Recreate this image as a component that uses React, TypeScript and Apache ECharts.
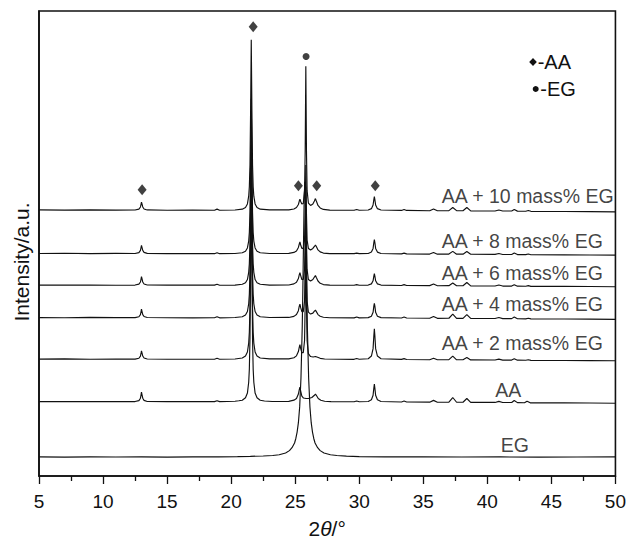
import React, { useEffect, useRef } from "react";
import * as echarts from "echarts";

// ---- data (2θ in degrees, intensity in a.u. above each trace's baseline) ----
const xMin = 5;
const xMax = 50;
const xInterval = 5;
const yMax = 471;

const traceNames = [
  "AA + 10 mass% EG",
  "AA + 8 mass% EG",
  "AA + 6 mass% EG",
  "AA + 4 mass% EG",
  "AA + 2 mass% EG",
  "AA",
  "EG",
];
const traceOffsets = [269, 225, 193, 160, 118, 75, 19];

const aa10 = [
  [5, 0.5], [7, 0.3], [9, 0.6], [11, 0.3], [12.5, 0.4],
  [12.8, 1.3], [12.92, 3.5], [12.97, 6.5], [13.0, 8.5], [13.04, 6.5], [13.1, 3.5], [13.2, 1.5], [13.45, 0.5],
  [15, 0.2], [17, 0.3], [18.7, 0.2], [18.9, 1.3], [19.1, 0.2], [20.3, 0.4],
  [20.87, 1.3], [21.12, 3], [21.27, 6.6], [21.37, 14.4], [21.42, 24], [21.47, 46], [21.52, 102], [21.57, 173],
  [21.62, 102], [21.67, 46], [21.72, 24], [21.77, 14.4], [21.87, 6.6], [22.02, 3], [22.27, 1.3], [23, 0.5],
  [24.5, 0.6], [24.9, 1.5], [25.1, 3], [25.25, 6], [25.32, 9.5], [25.37, 11.5], [25.43, 9], [25.52, 6.5],
  [25.63, 7], [25.73, 20], [25.78, 60], [25.83, 146], [25.88, 60], [25.93, 20], [26.03, 7.5], [26.2, 5],
  [26.38, 6.5], [26.5, 9.5], [26.58, 12], [26.65, 9.5], [26.78, 5], [26.95, 2.5], [27.2, 1], [27.7, 0.3],
  [29.6, 0.2], [29.8, 1], [30, 0.2], [30.7, 0.4], [30.95, 1.8], [31.08, 5.5], [31.14, 11], [31.18, 14],
  [31.22, 11], [31.28, 5.5], [31.42, 1.8], [31.7, 0.4],
  [33.3, 0], [33.5, 1], [33.7, 0], [35.5, -0.3], [35.8, 1.5], [36.1, -0.3], [37.0, -0.2], [37.3, 3],
  [37.6, -0.2], [38.1, -0.3], [38.4, 3], [38.7, -0.4], [40.6, -0.6], [40.9, 0.5], [41.2, -0.6], [41.9, -0.6],
  [42.1, 0.9], [42.35, -0.7], [43, -0.8], [43.2, 0], [43.4, -0.9], [46, -1.1], [48, -1.2], [50, -1.4],
];

const aa8 = [
  [5, 0.4], [7, 0.6], [9, 0.3], [11, 0.5], [12.5, 0.4],
  [12.8, 1.3], [12.92, 3.5], [12.97, 6.5], [13.0, 8.5], [13.04, 6.5], [13.1, 3.5], [13.2, 1.5], [13.45, 0.5],
  [15, 0.3], [17, 0.2], [18.7, 0.2], [18.9, 1.2], [19.1, 0.2], [20.3, 0.4],
  [20.87, 1.1], [21.12, 2.7], [21.27, 6], [21.37, 13], [21.42, 21.7], [21.47, 42], [21.52, 93], [21.57, 157],
  [21.62, 93], [21.67, 42], [21.72, 21.7], [21.77, 13], [21.87, 6], [22.02, 2.7], [22.27, 1.1], [23, 0.4],
  [24.5, 0.5], [24.9, 1.5], [25.1, 3], [25.25, 6.5], [25.32, 10], [25.37, 12], [25.43, 9], [25.52, 5.5],
  [25.63, 5.5], [25.73, 14], [25.78, 40], [25.83, 90], [25.88, 40], [25.93, 14], [26.03, 5.5], [26.2, 4],
  [26.38, 5.5], [26.5, 7.5], [26.58, 9], [26.65, 7.5], [26.78, 4], [26.95, 2], [27.2, 0.8], [27.7, 0.3],
  [29.6, 0.2], [29.8, 0.8], [30, 0.2], [30.7, 0.4], [30.95, 1.8], [31.08, 5.5], [31.14, 11.5], [31.18, 14.5],
  [31.22, 11.5], [31.28, 5.5], [31.42, 1.8], [31.7, 0.4],
  [33.3, 0], [33.5, 0.8], [33.7, 0], [35.5, -0.2], [35.8, 1.3], [36.1, -0.3], [37.0, -0.2], [37.3, 2.5],
  [37.6, -0.3], [38.1, -0.3], [38.4, 2.3], [38.7, -0.4], [40.6, -0.5], [40.9, 0.4], [41.2, -0.6], [41.9, -0.6],
  [42.1, 0.8], [42.35, -0.7], [43, -0.8], [43.2, -0.2], [43.4, -0.9], [46, -1], [48, -1.1], [50, -1.3],
];

const aa6 = [
  [5, 0.3], [7, 0.5], [9, 0.4], [11, 0.2], [12.5, 0.4],
  [12.8, 1.3], [12.92, 3.5], [12.97, 6.8], [13.0, 9], [13.04, 6.8], [13.1, 3.5], [13.2, 1.5], [13.45, 0.5],
  [15, 0.3], [17, 0.4], [18.7, 0.3], [18.9, 1.2], [19.1, 0.2], [20.3, 0.4],
  [20.87, 1.2], [21.12, 2.8], [21.27, 6], [21.37, 13.3], [21.42, 22], [21.47, 42], [21.52, 94], [21.57, 160],
  [21.62, 94], [21.67, 42], [21.72, 22], [21.77, 13.3], [21.87, 6], [22.02, 2.8], [22.27, 1.2], [23, 0.4],
  [24.5, 0.5], [24.9, 1.6], [25.1, 3.2], [25.25, 7], [25.32, 11], [25.37, 13], [25.43, 10], [25.52, 6],
  [25.63, 6], [25.73, 16], [25.78, 45], [25.83, 100], [25.88, 45], [25.93, 16], [26.03, 6], [26.2, 4.5],
  [26.38, 6], [26.5, 8.5], [26.58, 10], [26.65, 8], [26.78, 4.5], [26.95, 2.2], [27.2, 0.9], [27.7, 0.3],
  [29.6, 0.2], [29.8, 0.8], [30, 0.2], [30.7, 0.4], [30.95, 1.6], [31.08, 4.7], [31.14, 9.5], [31.18, 12],
  [31.22, 9.5], [31.28, 4.7], [31.42, 1.6], [31.7, 0.4],
  [33.3, 0], [33.5, 0.8], [33.7, 0], [35.5, -0.2], [35.8, 1.4], [36.1, -0.3], [37.0, -0.2], [37.3, 2.5],
  [37.6, -0.3], [38.1, -0.3], [38.4, 3], [38.7, -0.4], [40.6, -0.5], [40.9, 0.4], [41.2, -0.6], [41.9, -0.6],
  [42.1, 0.8], [42.35, -0.7], [43, -0.8], [43.2, -0.2], [43.4, -0.9], [46, -1], [48, -1.1], [50, -1.3],
];

const aa4 = [
  [5, 0.4], [7, 0.3], [9, 0.6], [11, 0.4], [12.5, 0.4],
  [12.8, 1.3], [12.92, 3.5], [12.97, 6.8], [13.0, 9], [13.04, 6.8], [13.1, 3.5], [13.2, 1.5], [13.45, 0.5],
  [15, 0.3], [17, 0.2], [18.7, 0.3], [18.9, 1.3], [19.1, 0.2], [20.3, 0.5],
  [20.87, 1.3], [21.12, 3.1], [21.27, 6.6], [21.37, 14.5], [21.42, 24], [21.47, 46], [21.52, 103], [21.57, 175],
  [21.62, 103], [21.67, 46], [21.72, 24], [21.77, 14.5], [21.87, 6.6], [22.02, 3.1], [22.27, 1.3], [23, 0.5],
  [24.5, 0.6], [24.9, 1.7], [25.1, 3.5], [25.25, 7.5], [25.32, 12], [25.37, 14], [25.43, 10.5], [25.52, 6.5],
  [25.63, 6.5], [25.73, 17], [25.78, 50], [25.83, 110], [25.88, 50], [25.93, 17], [26.03, 6], [26.2, 4],
  [26.38, 5], [26.5, 7], [26.58, 8], [26.65, 6.5], [26.78, 3.5], [26.95, 1.8], [27.2, 0.8], [27.7, 0.3],
  [29.6, 0.2], [29.8, 1], [30, 0.2], [30.7, 0.4], [30.95, 1.9], [31.08, 5.8], [31.14, 12], [31.18, 15],
  [31.22, 12], [31.28, 5.8], [31.42, 1.9], [31.7, 0.4],
  [33.3, 0], [33.5, 1], [33.7, 0], [35.5, -0.2], [35.8, 1.6], [36.1, -0.3], [37.0, -0.2], [37.3, 4],
  [37.6, -0.3], [38.1, -0.3], [38.4, 3.5], [38.7, -0.4], [40.6, -0.5], [40.9, 0.5], [41.2, -0.6], [41.9, -0.6],
  [42.1, 1], [42.35, -0.7], [43, -0.8], [43.2, -0.2], [43.4, -0.9], [46, -1], [48, -1.1], [50, -1.3],
];

const aa2 = [
  [5, 0.4], [7, 0.6], [9, 0.3], [11, 0.5], [12.5, 0.4],
  [12.8, 1.3], [12.92, 3.5], [12.97, 6.7], [13.0, 8.8], [13.04, 6.7], [13.1, 3.5], [13.2, 1.5], [13.45, 0.5],
  [15, 0.3], [17, 0.3], [18.7, 0.3], [18.9, 1.2], [19.1, 0.3], [20.3, 0.5],
  [20.87, 1.5], [21.12, 3.5], [21.27, 7.6], [21.37, 16.6], [21.42, 27.6], [21.47, 53], [21.52, 118], [21.57, 200],
  [21.62, 118], [21.67, 53], [21.72, 27.6], [21.77, 16.6], [21.87, 7.6], [22.02, 3.5], [22.27, 1.5], [23, 0.6],
  [24.5, 0.6], [24.9, 1.8], [25.1, 3.7], [25.25, 8], [25.32, 12.5], [25.37, 15], [25.43, 11], [25.52, 7],
  [25.63, 7], [25.73, 19], [25.78, 56], [25.83, 125], [25.88, 56], [25.93, 19], [26.03, 6], [26.2, 3],
  [26.4, 2.5], [26.58, 3], [26.75, 2.2], [26.95, 1.2], [27.3, 0.5],
  [29.6, 0.2], [29.8, 1], [30, 0.3], [30.7, 0.8], [30.95, 3.5], [31.08, 11], [31.14, 24], [31.18, 31],
  [31.22, 24], [31.28, 11], [31.42, 3.5], [31.7, 0.8],
  [33.3, 0.1], [33.5, 0.9], [33.7, 0], [35.5, -0.2], [35.8, 1.2], [36.1, -0.3], [37.0, -0.2], [37.3, 3.5],
  [37.6, -0.3], [38.1, -0.3], [38.4, 2], [38.7, -0.4], [40.6, -0.5], [40.9, 0.4], [41.2, -0.6], [41.9, -0.6],
  [42.1, 0.8], [42.35, -0.7], [43, -0.8], [43.2, -0.3], [43.4, -0.9], [46, -1], [48, -1.1], [50, -1.3],
];

const aaPure = [
  [5, 0.4], [7, 0.3], [9, 0.5], [11, 0.3], [12.5, 0.4],
  [12.8, 1.4], [12.92, 3.8], [12.97, 7.5], [13.0, 10], [13.04, 7.5], [13.1, 3.8], [13.2, 1.6], [13.45, 0.5],
  [15, 0.3], [17, 0.3], [18.7, 0.3], [18.9, 1.3], [19.1, 0.3], [20.3, 0.7],
  [20.6, 1.2], [20.87, 1.75], [21.12, 4.2], [21.27, 9], [21.37, 20], [21.42, 33], [21.47, 64], [21.52, 142], [21.57, 240],
  [21.62, 142], [21.67, 64], [21.72, 33], [21.77, 20], [21.87, 9], [22.02, 4.2], [22.27, 1.75], [22.6, 1], [23.2, 0.5],
  [24.5, 0.6], [24.9, 1.8], [25.1, 3.5], [25.25, 8], [25.32, 12.5], [25.37, 15], [25.43, 11], [25.52, 6],
  [25.65, 4], [25.85, 3.5], [26.05, 3.5], [26.3, 4.5], [26.48, 6.5], [26.58, 8], [26.66, 6.5], [26.8, 3.5],
  [27, 1.8], [27.3, 0.7], [27.8, 0.3],
  [29.6, 0.2], [29.8, 1], [30, 0.2], [30.7, 0.5], [30.95, 2.2], [31.08, 6.8], [31.14, 14], [31.18, 18],
  [31.22, 14], [31.28, 6.8], [31.42, 2.2], [31.7, 0.5],
  [33.3, 0], [33.5, 1], [33.7, 0], [35.5, -0.2], [35.8, 1.6], [36.1, -0.3], [37.0, -0.2], [37.3, 4.5],
  [37.6, -0.3], [38.1, -0.3], [38.4, 3.5], [38.7, -0.4], [40.6, -0.5], [40.9, 0.6], [41.2, -0.6], [41.9, -0.6],
  [42.1, 1.5], [42.35, -0.7], [42.9, -0.8], [43.1, 0.8], [43.35, -0.9], [46, -1], [48, -1.1], [50, -1.3],
];

const egPure = [
  [5, 0.3], [7, 0.1], [9, 0.4], [11, 0.2], [13, 0.3], [15, 0.1], [17, 0.3], [19, 0.4], [20.5, 0.6],
  [21.5, 0.9], [22.5, 1.3], [23.25, 1.8], [23.75, 2.5], [24.25, 4.3], [24.55, 6.7], [24.75, 9.7],
  [24.95, 14.4], [25.05, 19], [25.15, 25.5], [25.25, 35], [25.35, 51], [25.45, 80], [25.55, 132],
  [25.6, 172], [25.65, 218], [25.7, 261], [25.75, 279], [25.8, 261], [25.85, 218], [25.9, 172],
  [25.95, 132], [26.05, 80], [26.15, 51], [26.25, 35], [26.35, 25.5], [26.45, 19], [26.55, 14.4],
  [26.75, 9.7], [26.95, 6.7], [27.25, 4.3], [27.75, 2.5], [28.25, 1.8], [29, 1.1], [30, 0.7],
  [32, 0.4], [35, 0.3], [38, 0.2], [41, 0.3], [44, 0.1], [47, 0.2], [50, 0.3],
];

const traceData = [aa10, aa8, aa6, aa4, aa2, aaPure, egPure];

// trace label anchors (data coordinates)
const labelX = [36.45, 36.45, 36.45, 36.45, 36.45, 41.63, 42.14];
const labelY = [284, 238, 205.3, 174.5, 135, 87.5, 31];
const labelAlign = ["left", "left", "left", "left", "left", "center", "center"];

// phase markers above peaks
const aaMarkX = [13.05, 21.72, 25.25, 26.68, 31.25];
const aaMarkY = [290, 455, 294, 294, 294];
const egMarkX = [25.85];
const egMarkY = [425];

const FONT = '"Liberation Sans", Arial, Helvetica, sans-serif';
const INK = "#111111";

export default function App() {
  const ref = useRef<HTMLDivElement>(null);

  useEffect(() => {
    document.body.style.margin = "0";
    const chart = echarts.init(ref.current!, null, { renderer: "svg" });

    const lineSeries = traceData.map((pts, i) => ({
      name: traceNames[i],
      type: "line",
      data: pts.map(([x, h]) => [x, h + traceOffsets[i]]),
      showSymbol: false,
      symbol: "none",
      lineStyle: { color: INK, width: 1.15 },
      z: 2,
      silent: true,
    }));

    const option: any = {
      animation: false,
      backgroundColor: "#ffffff",
      grid: {
        left: 39,
        right: 12,
        top: 11,
        bottom: 62,
        show: true,
        borderColor: INK,
        borderWidth: 1.6,
        backgroundColor: "transparent",
      },
      xAxis: {
        type: "value",
        min: xMin,
        max: xMax,
        interval: xInterval,
        axisLine: { show: true, onZero: false, lineStyle: { color: INK, width: 1.6 } },
        axisTick: { show: true, inside: false, length: 8, lineStyle: { color: INK, width: 1.3 } },
        minorTick: { show: true, splitNumber: 2, length: 5, lineStyle: { color: INK, width: 1.3 } },
        splitLine: { show: false },
        minorSplitLine: { show: false },
        axisLabel: {
          show: true,
          fontSize: 19,
          fontFamily: FONT,
          color: INK,
          margin: 16,
          showMinLabel: true,
          showMaxLabel: true,
        },
        name: "{n|2}{i|θ}{n|/°}",
        nameLocation: "middle",
        nameGap: 42,
        nameTextStyle: {
          rich: {
            n: { fontSize: 21, fontFamily: FONT, color: INK },
            i: { fontSize: 21, fontFamily: FONT, fontStyle: "italic", color: INK },
          },
        },
      },
      yAxis: {
        type: "value",
        min: 0,
        max: yMax,
        axisLine: { show: true, lineStyle: { color: INK, width: 1.6 } },
        axisTick: { show: false },
        axisLabel: { show: false },
        splitLine: { show: false },
      },
      graphic: [
        {
          type: "text",
          x: 21,
          y: 262,
          rotation: Math.PI / 2,
          style: {
            text: "Intensity/a.u.",
            font: `21px ${FONT}`,
            fill: INK,
            align: "center",
            verticalAlign: "middle",
          },
        },
        {
          type: "polygon",
          shape: { points: [[533, 58], [536.8, 62], [533, 66], [529.2, 62]] },
          style: { fill: INK },
        },
        {
          type: "text",
          x: 537.7,
          y: 62,
          style: { text: "-AA", font: `20px ${FONT}`, fill: INK, align: "left", verticalAlign: "middle" },
        },
        {
          type: "circle",
          shape: { cx: 535.7, cy: 89, r: 3 },
          style: { fill: INK },
        },
        {
          type: "text",
          x: 540.3,
          y: 89,
          style: { text: "-EG", font: `20px ${FONT}`, fill: INK, align: "left", verticalAlign: "middle" },
        },
      ],
      series: [
        ...lineSeries,
        {
          name: "AA",
          type: "scatter",
          symbol: "diamond",
          symbolSize: [9, 11],
          itemStyle: { color: INK },
          data: aaMarkX.map((x, i) => [x, aaMarkY[i]]),
          z: 3,
          silent: true,
        },
        {
          name: "EG",
          type: "scatter",
          symbol: "circle",
          symbolSize: 7,
          itemStyle: { color: INK },
          data: egMarkX.map((x, i) => [x, egMarkY[i]]),
          z: 3,
          silent: true,
        },
        {
          name: "labels",
          type: "scatter",
          symbolSize: 0,
          silent: true,
          z: 4,
          data: traceNames.map((n, i) => ({
            value: [labelX[i], labelY[i]],
            name: n,
            label: {
              show: true,
              position: [0, 0],
              formatter: n,
              align: labelAlign[i],
              verticalAlign: "middle",
              fontSize: 19.5,
              fontFamily: FONT,
              color: INK,
            },
          })),
        },
      ],
    };

    chart.setOption(option);
    return () => chart.dispose();
  }, []);

  return (
    <div
      ref={ref}
      style={{ position: "fixed", left: 0, top: 0, width: 629, height: 544, background: "#fff" }}
    />
  );
}
